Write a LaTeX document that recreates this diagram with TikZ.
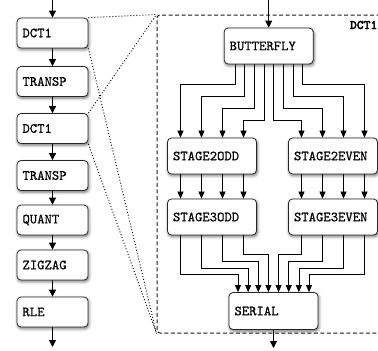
\documentclass[tikz,border=0pt]{standalone}
\usetikzlibrary{arrows.meta,shadows.blur,calc}
\font\dctlab="[lmmonolt10-bold]:embolden=2.5" at 13pt
\font\boxfont="[lmmono10-regular]:embolden=0.5" at 14pt
\begin{document}
\begin{tikzpicture}[x=1pt,y=-1pt,
  box/.style={draw=black!85, line width=0.8pt, fill=white, rounded corners=4pt,
    font=\boxfont, align=left, inner xsep=5.5pt, inner ysep=0pt,
    blur shadow={shadow xshift=0.8pt, shadow yshift=-1.6pt, shadow blur radius=3pt, shadow opacity=60}},
  lbox/.style={box, text width=60pt, minimum height=30pt},
  rbox/.style={box, text width=78pt, minimum height=36pt},
  arr/.style={-{Triangle[length=7pt,width=7pt]}, line width=0.8pt},
  sarr/.style={-{Triangle[length=7pt,width=6pt]}, line width=0.7pt},
  zoomline/.style={line width=0.9pt, dash pattern=on 1pt off 2pt, black},
  zoombox/.style={draw=black!90, dash pattern=on 4pt off 2.5pt, line width=1pt, rounded corners=3pt, inner sep=0pt},
]
\useasboundingbox (0,0) rectangle (378,351);

% zoomed frame
\node[zoombox, minimum width=233pt, minimum height=318pt] (zoom) at (273.5,174) {};
\node[font=\dctlab, anchor=base east, inner sep=0pt] (lab) at (377.5,29) {DCT1};

% left column
\coordinate (in1) at (52.5,0);
\coordinate (out1) at (52.5,347);
\node[lbox] (d1) at (52.5,33) {DCT1};
\node[lbox] (t1) at (52.5,81.5) {TRANSP};
\node[lbox] (d2) at (52.5,128.5) {DCT1};
\node[lbox] (t2) at (52.5,175.5) {TRANSP};
\node[lbox] (q) at (52.5,220) {QUANT};
\node[lbox] (z) at (52.5,265) {ZIGZAG};
\node[lbox] (r) at (52.5,312) {RLE};
\draw[arr] (in1) -- (d1);
\draw[arr] (d1) -- (t1);
\draw[arr] (t1) -- (d2);
\draw[arr] (d2) -- (t2);
\draw[arr] (t2) -- (q);
\draw[arr] (q) -- (z);
\draw[arr] (z) -- (r);
\draw[arr] (r) -- (out1);

% zoom lines
\draw[zoomline] (d1.north east) -- (zoom.north west);
\draw[zoomline] (d1.south east) -- (zoom.south west);
\draw[zoomline] (d2.north east) -- (zoom.north west);
\draw[zoomline] (d2.south east) -- (zoom.south west);

% right detail
\coordinate (in2) at (268.7,0);
\coordinate (out2) at (273.5,348);
\node[rbox] (bf) at (268.7,46) {BUTTERFLY};
\node[rbox] (s2o) at (212,156) {STAGE2ODD};
\node[rbox] (s2e) at (333,156) {STAGE2EVEN};
\node[rbox] (s3o) at (212,217) {STAGE3ODD};
\node[rbox] (s3e) at (333,217) {STAGE3EVEN};
\node[rbox, minimum height=37pt] (ser) at (273.5,311) {SERIAL};

\draw[arr] (in2) -- (bf);
\draw[arr] (ser) -- (out2);

\draw[sarr] ([xshift=-33.85pt]bf.south) -- ++(0,20) -| ([xshift=-31.5pt]s2o.north);
\draw[sarr] ([xshift=-24.2pt]bf.south) -- ++(0,32) -| ([xshift=-10.5pt]s2o.north);
\draw[sarr] ([xshift=-14.5pt]bf.south) -- ++(0,44) -| ([xshift=10.5pt]s2o.north);
\draw[sarr] ([xshift=-4.8pt]bf.south) -- ++(0,56) -| ([xshift=31.5pt]s2o.north);
\draw[sarr] ([xshift=4.8pt]bf.south) -- ++(0,56) -| ([xshift=-31.5pt]s2e.north);
\draw[sarr] ([xshift=14.5pt]bf.south) -- ++(0,44) -| ([xshift=-10.5pt]s2e.north);
\draw[sarr] ([xshift=24.2pt]bf.south) -- ++(0,32) -| ([xshift=10.5pt]s2e.north);
\draw[sarr] ([xshift=33.85pt]bf.south) -- ++(0,20) -| ([xshift=31.5pt]s2e.north);

\foreach \dx in {-31.5,-10.5,10.5,31.5} {
  \draw[sarr] ([xshift=\dx pt]s2o.south) -- ([xshift=\dx pt]s3o.north);
  \draw[sarr] ([xshift=\dx pt]s2e.south) -- ([xshift=\dx pt]s3e.north);
}

\draw[sarr] ([xshift=-31.5pt]s3o.south) -- ++(0,39.3) -| ([xshift=-35.5pt]ser.north);
\draw[sarr] ([xshift=-10.5pt]s3o.south) -- ++(0,32.5) -| ([xshift=-25.35pt]ser.north);
\draw[sarr] ([xshift=10.5pt]s3o.south) -- ++(0,25.8) -| ([xshift=-15.2pt]ser.north);
\draw[sarr] ([xshift=31.5pt]s3o.south) -- ++(0,19) -| ([xshift=-5.07pt]ser.north);
\draw[sarr] ([xshift=-31.5pt]s3e.south) -- ++(0,19) -| ([xshift=5.07pt]ser.north);
\draw[sarr] ([xshift=-10.5pt]s3e.south) -- ++(0,25.8) -| ([xshift=15.2pt]ser.north);
\draw[sarr] ([xshift=10.5pt]s3e.south) -- ++(0,32.5) -| ([xshift=25.35pt]ser.north);
\draw[sarr] ([xshift=31.5pt]s3e.south) -- ++(0,39.3) -| ([xshift=35.5pt]ser.north);
\end{tikzpicture}
\end{document}
